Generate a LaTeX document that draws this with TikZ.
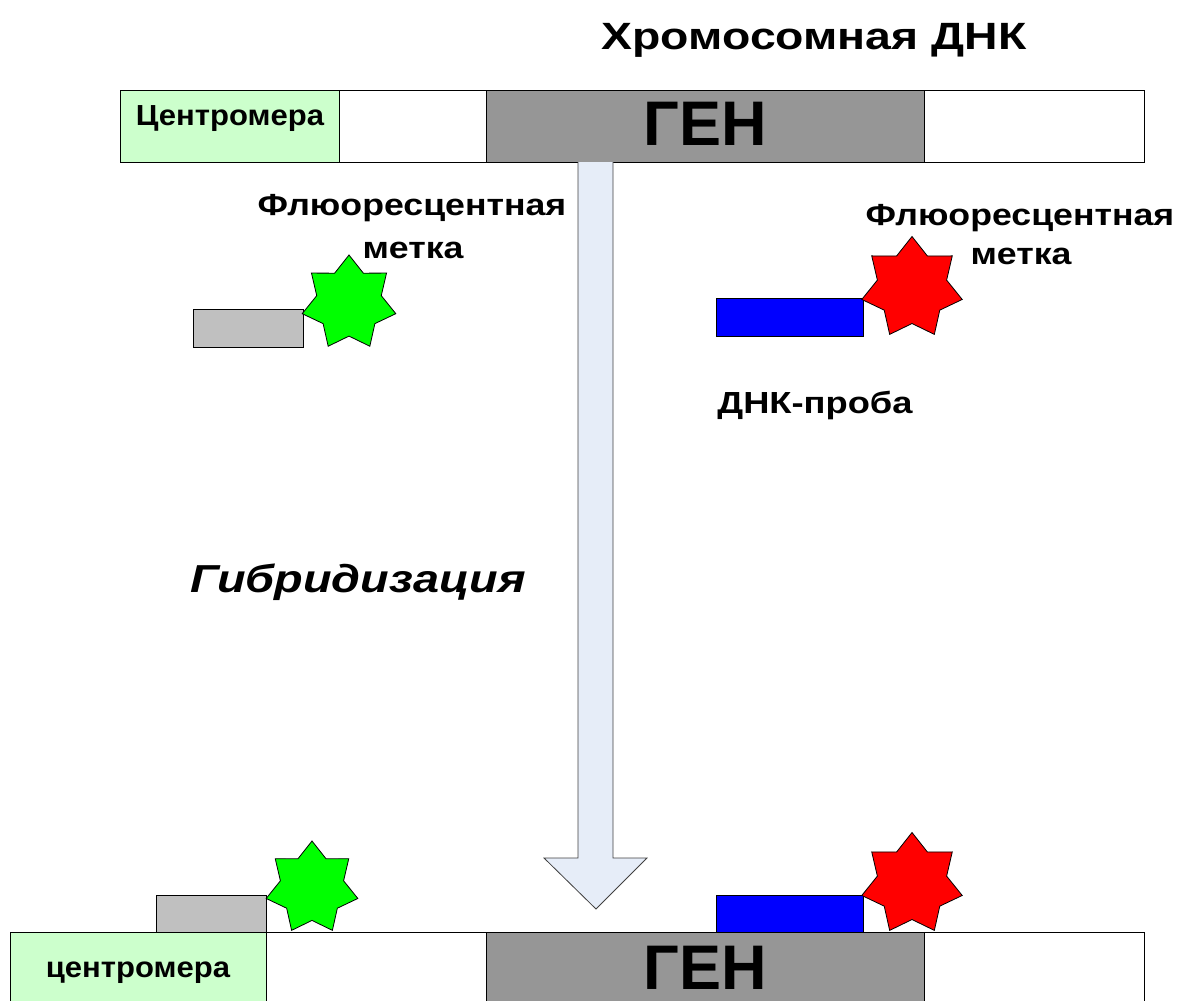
\documentclass[tikz,border=0pt]{standalone}
\usepackage{graphicx}
\usepackage{fontspec}
\setmainfont{Liberation Sans}
\usetikzlibrary{shapes.geometric}
\definecolor{cengreen}{HTML}{CCFFCC}
\definecolor{genegray}{HTML}{969696}
\definecolor{probegray}{HTML}{C0C0C0}
\definecolor{arrowfill}{HTML}{E6EDF8}
\newcommand{\hstretch}[2]{\scalebox{#1}[1]{#2}}
\begin{document}
\begin{tikzpicture}[x=1pt,y=-1pt,
  seg/.style={draw=black, line width=1.2pt, anchor=north west, minimum height=72pt, inner sep=0pt},
  probe/.style={draw=black, line width=1.1pt, anchor=north west, inner sep=0pt},
  flstar/.style={star, star points=7, star point ratio=1.45, draw=black, line width=0.8pt, inner sep=0pt},
  lbl/.style={anchor=base, inner sep=0pt, font=\bfseries},
  small/.style={lbl, font=\bfseries\fontsize{29}{31}\selectfont},
  mid/.style={lbl, font=\bfseries\fontsize{30.5}{33}\selectfont},
  gene/.style={lbl, font=\bfseries\fontsize{63}{66}\selectfont},
]
\useasboundingbox (0,0) rectangle (1184,1001);
% title
\node[lbl, font=\bfseries\fontsize{38}{40}\selectfont] (title) at (814,49) {\hstretch{1.22}{Хромосомная ДНК}};
% top chromosome
\node[seg, fill=cengreen, minimum width=219pt] (cen1) at (120,90) {};
\node[seg, fill=white, minimum width=147pt] (w1) at (339,90) {};
\node[seg, fill=genegray, minimum width=438pt] (gen1) at (486,90) {};
\node[seg, fill=white, minimum width=220pt] (w2) at (924,90) {};
\node[small] (cen1t) at (230,125) {\hstretch{1.07}{Центромера}};
\node[gene] (gen1t) at (705,145) {ГЕН};
% big arrow
\coordinate (a1) at (578,162);
\coordinate (a2) at (613,162);
\filldraw[fill=arrowfill, draw=black!75, line width=0.8pt]
  (a1) -- (578,858) -- (544,858) -- (596,909) -- (647,858) -- (613,858) -- (a2);
% left probe (free)
\node[probe, fill=probegray, minimum width=110pt, minimum height=38pt] (p1) at (193,309) {};
\node[flstar, fill=green, minimum size=96pt] (s1) at (349,303) {};
\node[mid] (f1) at (412,215) {\hstretch{1.17}{Флюоресцентная}};
\node[mid] (m1) at (413,258) {\hstretch{1.17}{метка}};
% right probe (free)
\node[probe, fill=blue, minimum width=147pt, minimum height=38pt] (p2) at (716,298) {};
\node[flstar, fill=red, minimum size=103pt] (s2) at (912,288) {};
\node[mid] (f2) at (1020,225) {\hstretch{1.17}{Флюоресцентная}};
\node[mid] (m2) at (1021,264) {\hstretch{1.17}{метка}};
\node[mid] (dp) at (815,413) {\hstretch{1.19}{ДНК-проба}};
% hybridization label
\node[lbl, font=\bfseries\itshape\fontsize{39}{41}\selectfont] (hyb) at (358,592) {\hstretch{1.2}{Гибридизация}};
% bottom chromosome
\node[seg, fill=cengreen, minimum width=256pt, minimum height=80pt] (cen2) at (10,932) {};
\node[seg, fill=white, minimum width=220pt, minimum height=80pt] (w3) at (266,932) {};
\node[seg, fill=genegray, minimum width=438pt, minimum height=80pt] (gen2) at (486,932) {};
\node[seg, fill=white, minimum width=220pt, minimum height=80pt] (w4) at (924,932) {};
\node[small] (cen2t) at (138,977) {\hstretch{1.07}{центромера}};
\node[gene] (gen2t) at (705,989) {ГЕН};
% bound probes
\node[probe, fill=probegray, minimum width=110pt, minimum height=37pt] (p3) at (156,895) {};
\node[flstar, fill=green, minimum size=94pt] (s3) at (312,888) {};
\node[probe, fill=blue, minimum width=147pt, minimum height=37pt] (p4) at (716,895) {};
\node[flstar, fill=red, minimum size=103pt] (s4) at (912,884) {};
\end{tikzpicture}
\end{document}
